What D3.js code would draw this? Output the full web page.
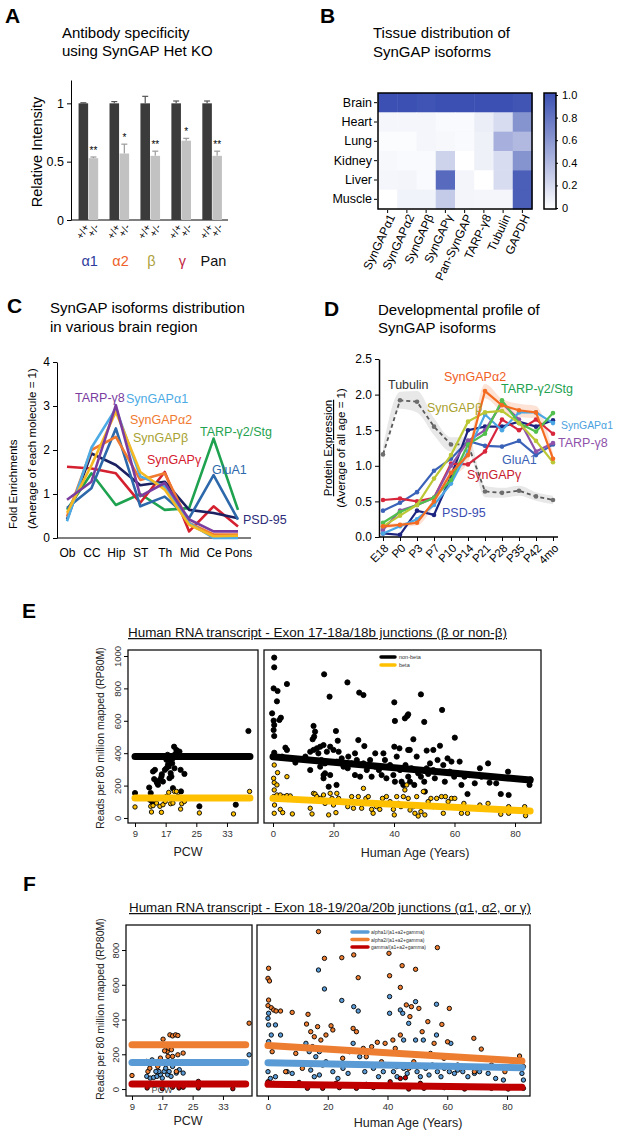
<!DOCTYPE html>
<html>
<head>
<meta charset="utf-8">
<script src="https://cdn.jsdelivr.net/npm/d3@7"></script>
<style>
body{margin:0;background:#fff}
svg{display:block}
</style>
</head>
<body>
<svg id="fig" width="617" height="1131"></svg>
<script>
// ---------- data: panel A ----------
var groupsA = ["α1","α2","β","γ","Pan"]
var genotypesA = ["+/+","+/-"]
var wtA = [1,1,1,1,1]
var wtErrA = [0.005,0.015,0.06,0.02,0.02]
var hetA = [0.53,0.57,0.55,0.68,0.55]
var hetErrA = [0.01,0.08,0.04,0.02,0.04]
var starsA = ["**","*","**","*","**"]

// ---------- data: panel B ----------
var tissuesB = ["Brain","Heart","Lung","Kidney","Liver","Muscle"]
var proteinsB = ["SynGAPα1","SynGAPα2","SynGAPβ","SynGAPγ","Pan-SynGAP","TARP-γ8","Tubulin","GAPDH"]
var heatB = [
  [1.0,1.0,0.98,1.0,1.0,1.0,1.0,0.97],
  [0.05,0.05,0.05,0.03,0.03,0.1,0.2,0.62],
  [0.02,0.02,0.05,0.04,0.03,0.08,0.45,0.4],
  [0.04,0.03,0.03,0.25,0.0,0.08,0.2,0.62],
  [0.05,0.06,0.03,0.85,0.06,0.0,0.2,0.92],
  [0.0,0.07,0.07,0.3,0.06,0.05,0.05,0.92]
]
var cbTicksB = [0,0.2,0.4,0.6,0.8,1.0]

// ---------- data: panel C ----------
var regionsC = ["Ob","CC","Hip","ST","Th","Mid","Ce","Pons"]
var namesC = ["TARP-γ2/Stg","SynGAPγ","PSD-95","GluA1","SynGAPα2","SynGAPα1","SynGAPβ","TARP-γ8"]
var valuesC = [
  [0.64,1.47,0.75,1.0,0.64,0.68,2.26,0.64],
  [1.62,1.58,1.47,0.8,1.5,0.15,0.72,0.26],
  [0.42,1.92,1.66,1.2,1.28,0.64,0.57,0.45],
  [0.68,1.13,2.49,0.72,0.94,0.45,1.43,0.42],
  [0.49,2.0,2.3,1.32,1.47,0.34,0.08,0.08],
  [0.38,2.05,2.94,1.4,1.17,0.34,0.0,0.0],
  [0.57,1.65,2.87,1.5,1.1,0.3,0.04,0.05],
  [0.87,1.28,3.02,0.95,1.25,0.42,0.15,0.15]
]

// ---------- data: panel D ----------
var agesD = ["E18","P0","P3","P7","P10","P14","P21","P28","P35","P42","4mo"]
var namesD = ["Tubulin","GluA1","PSD-95","SynGAPγ","TARP-γ8","SynGAPα1","TARP-γ2/Stg","SynGAPβ","SynGAPα2"]
var valuesD = [
  [1.16,1.92,1.9,1.55,1.3,1.3,0.64,0.62,0.65,0.57,0.52],
  [0.37,0.48,0.63,0.93,1.1,1.35,1.28,1.27,1.35,1.15,1.3],
  [0.05,0.03,0.37,0.31,0.85,1.5,1.55,1.55,1.62,1.55,1.64],
  [0.52,0.54,0.5,0.55,1.03,1.02,1.2,1.65,1.5,1.65,1.45],
  [0.1,0.37,0.45,0.55,1.0,1.35,1.5,1.88,1.65,1.2,1.32],
  [0.05,0.15,0.25,0.45,0.75,1.2,1.72,1.5,1.75,1.75,1.6],
  [0.2,0.35,0.45,0.55,0.8,1.3,1.45,1.92,1.6,1.48,1.74],
  [0.15,0.3,0.45,0.82,1.15,1.62,1.75,1.77,1.6,1.35,1.05],
  [0.15,0.17,0.2,0.5,0.9,1.15,2.05,1.85,1.78,1.75,1.1]
]
var semTubulinD = [0.1,0.12,0.15,0.12,0.1,0.1,0.08,0.07,0.07,0.06,0.06]
var semAlpha2D = [0.03,0.03,0.04,0.06,0.08,0.1,0.1,0.09,0.09,0.09,0.08]

// ---------- data: panel E (PCW / age, RP80M) ----------
var eLeftNonBeta = [[9,154],[38.6,537],[12.7,188],[13.1,154],[13.7,287],[14.2,297],[14,240],[15,205],[15.5,236],[15.9,256],[16.3,225],[16.8,297],[17.2,307],[17.6,328],[18,246],[18.3,277],[18.7,338],[18.9,369],[19.2,440],[19.3,307],[19.8,420],[20.2,400],[20.6,410],[20.9,297],[21,164],[21.9,272],[18.9,184],[25.8,72],[35.3,82],[18,359],[17.2,359],[17.8,318],[18.5,256],[14.6,225],[12.9,113],[17.5,390],[19.5,395],[16,270],[14.8,215],[13.5,100]]
var eLeftBeta = [[9,68],[38.9,164],[13.1,72],[13.3,37],[13.7,76],[14.6,92],[15.5,72],[15.9,35],[16.3,82],[16.9,102],[17.8,158],[18.3,88],[18.9,92],[19.3,164],[19.8,164],[20.2,133],[20.9,55],[21.2,88],[21.9,102],[25.8,31],[34.7,25],[17.2,133],[14.2,113]]
var eRightNonBeta = [[0.4,990],[0.4,930],[0.2,800],[1.5,784],[1.3,720],[4.6,827],[-0.3,646],[0.2,601],[0.4,574],[0.2,543],[0.4,506],[2.1,605],[2.6,619],[16.9,887],[18.7,749],[24.6,837],[28.5,774],[29.9,759],[40.1,714],[40.3,599],[48.9,763],[50,593],[55.9,667],[43.6,615],[44.4,630],[44.7,640],[60.1,496],[13.4,568],[13.1,486],[13.9,533],[13.6,502],[20.8,537],[21.4,477],[28.2,481],[30.2,444],[40.1,440],[41.8,430],[46.4,486],[44.7,420],[50.8,416],[53,420],[55.2,446],[4.1,434],[4.6,420],[0.4,403],[0.2,379],[3,379],[7.4,342],[12.3,296],[13.4,420],[14.5,430],[15.6,440],[16.7,450],[15,399],[16,358],[17.2,337],[15.6,317],[17.8,409],[18.9,440],[20,420],[21.7,409],[16.7,265],[17.2,276],[18.9,265],[21,204],[23.3,317],[24.7,307],[26,337],[27.7,358],[27.1,265],[28.8,255],[29.9,337],[31,296],[32.1,358],[32.6,255],[33.8,317],[35,296],[35.9,265],[37,358],[37.5,245],[38.7,327],[39.8,265],[40.9,379],[42,296],[42.5,224],[43.1,204],[43.8,327],[44.7,255],[45.3,224],[45.8,307],[46.7,204],[47.5,379],[48,276],[48.9,255],[50,224],[50.2,163],[50.8,307],[51.3,272],[51.9,337],[53,296],[53.5,245],[54.4,358],[55.2,286],[56.3,327],[56.8,224],[57.7,368],[58.4,286],[59,348],[59.9,255],[60.6,276],[61.7,348],[62.3,204],[63.3,255],[64.3,148],[65,265],[66.7,214],[68.4,307],[68.9,255],[71.1,337],[71.6,218],[73.8,214],[75.3,148],[77.7,286],[77.9,142],[84.8,204],[85.1,239],[21.1,348],[22.7,368],[24.9,379],[10.7,379],[12.3,409],[27.1,399],[33.8,399],[18.4,193],[16.7,245],[40.3,224],[36.5,399],[45.2,420]]
var eRightBeta = [[0.4,327],[0.2,245],[0.4,218],[1.3,204],[1.5,280],[4.6,255],[0.4,173],[0.2,132],[1.3,142],[2.4,142],[3.5,132],[4.6,138],[5.7,136],[0.5,80],[2.4,53],[3.2,33],[6.4,25],[0.4,29],[12.3,60],[12.9,25],[13.4,152],[13.9,148],[14.5,132],[15.6,121],[16.7,142],[17.2,90],[18.4,19],[18.9,152],[19.5,121],[20,80],[20.8,33],[21.1,152],[21.7,121],[23.3,101],[24.7,70],[26,132],[26.6,60],[28.2,132],[29.3,60],[29.9,183],[30.7,121],[31.5,132],[32.6,53],[33.1,29],[34.2,70],[35.3,53],[36.2,121],[37.5,132],[38.7,101],[39.8,53],[40.1,19],[40.9,132],[41.4,90],[42.3,70],[43.1,132],[43.6,173],[44.2,204],[44.7,121],[45.3,49],[46.4,70],[46.9,29],[47.5,132],[48,12],[48.9,39],[49.7,163],[50.2,19],[51.3,101],[52.2,121],[53,70],[54.1,121],[55.7,132],[56.3,29],[57,132],[57.9,101],[59,121],[60.1,121],[61.2,70],[62.3,29],[63.1,90],[64.3,29],[68.4,80],[71.1,90],[75.3,23],[77.9,70],[77.9,29],[83.2,70],[83.5,14]]
// fitted lines [x0, y0, x1, y1]
var eLeftFitNonBeta = [9,379,39,379]
var eLeftFitBeta = [9,123,39,123]
var eRightFitNonBeta = [0,378,85,234]
var eRightFitBeta = [0,121,85,43]
var eTicksPCW = [9,17,25,33]
var eTicksAge = [0,20,40,60,80]
var eTicksY = [0,200,400,600,800,1000]

// ---------- data: panel F ----------
var fLeftAlpha2 = [[9,78],[39.9,379],[17.2,287],[19,312],[19.7,306],[20.5,312],[21.1,308],[18.3,216],[17.6,220],[18.7,235],[19.4,226],[16.5,178],[19.7,188],[21.1,197],[22.5,207],[13.2,101],[13.7,120],[20.7,101],[18.5,188],[15.8,130]]
var fLeftAlpha1 = [[39.9,197],[12.9,159],[14.3,168],[12.9,73],[13.8,63],[14.7,67],[15.6,73],[16.5,82],[17,63],[17.5,101],[17.9,120],[18.4,82],[18.8,101],[19.3,73],[19.7,130],[20.7,92],[21.5,111],[22.5,92],[16.1,101],[15.3,101]]
var fLeftGamma = [[9,29],[13,6],[17,2],[21.4,6],[26.5,44],[26.5,6],[35.6,2],[13.8,25],[19.7,10],[22.5,10]]
var fRightAlpha2 = [[16.9,906],[18.9,752],[24.7,756],[28.7,772],[40.5,781],[44.9,710],[49.4,689],[40.7,652],[30.2,641],[44.3,585],[56.7,814],[0.2,695],[0,637],[0.5,622],[0.2,512],[0,480],[1.1,468],[1.9,455],[2.7,449],[4.2,449],[8.1,441],[13.4,430],[12.9,374],[14.3,330],[15.5,301],[16.6,359],[17.7,282],[19.4,311],[21.1,364],[21.7,340],[28.5,349],[29.6,330],[31.9,234],[34.7,244],[36.6,269],[39.2,263],[41.8,282],[42.6,234],[44.3,311],[46.3,484],[47.5,417],[48,474],[50.5,464],[51.6,330],[53.5,388],[55.6,263],[58.2,372],[60.7,464],[60.1,272],[68.9,292],[71.4,230],[84.2,190],[85.5,129],[5.9,100],[9.3,205],[11.5,119],[18.3,138],[25,177],[27.3,215],[32.9,186],[35.2,138],[38,157],[43.1,129],[47.1,119],[48.8,157],[54.4,205],[58.9,177],[63.5,138],[69.1,100],[74.8,138],[79.3,100],[1.4,215]]
var fRightAlpha1 = [[16.9,685],[18.9,576],[24.7,510],[28.7,474],[30.2,449],[40.7,532],[40.7,436],[44.3,455],[45.1,436],[47.1,378],[49.4,503],[56.4,488],[49.4,282],[52,282],[56.4,311],[0.2,436],[0,407],[0.2,369],[1.1,311],[2.5,369],[0.2,273],[4.2,311],[0,100],[0.8,61],[2.5,71],[6.4,100],[8.1,90],[12.7,263],[13.8,215],[14.9,244],[16,186],[17.2,215],[14.3,109],[15.5,71],[17.2,81],[19.4,157],[21.7,100],[23.4,61],[25.1,119],[26.8,90],[28.5,263],[30.7,186],[32.4,100],[35.3,119],[37,71],[38.6,100],[40.3,138],[42,100],[43.2,71],[45.4,119],[46.6,90],[48.2,129],[49.9,100],[51,71],[52.8,119],[53.9,81],[55,138],[56.7,100],[57.9,71],[59,119],[60.7,100],[62.4,90],[63.5,109],[65.2,100],[66.9,71],[69.1,90],[70.8,100],[73.7,90],[76.2,61],[78.8,52],[85,90],[85.5,52],[61.2,263],[45.4,282]]
var fRightGamma = [[0,42],[1.9,33],[4.7,27],[10.4,38],[13.2,4],[18.3,4],[23.9,8],[29.6,4],[35.3,8],[40.9,42],[44.3,61],[46,65],[47.1,0],[52.2,4],[59,8],[65.8,0],[74.8,4],[80.4,0],[85.5,4],[22.8,33],[32.9,27],[51,33]]
var fLeftFitAlpha2 = [9,255,39,255]
var fLeftFitAlpha1 = [9,153,39,153]
var fLeftFitGamma = [9,29,39,29]
var fRightFitAlpha2 = [0,250,85,161]
var fRightFitAlpha1 = [0,152,85,123]
var fRightFitGamma = [0,27,85,10]
var fTicksY = [0,200,400,600,800]

// ---------- drawing ----------
var FONT = '"Liberation Sans", Arial, Helvetica, sans-serif';
const svg = d3.select("#fig").style("font-family", FONT);
svg.append("rect").attr("width",617).attr("height",1131).attr("fill","#fff");

function addText(t, x, y, size, opts){
	opts = opts || {};
	var el = svg.append("text")
		.attr("x", x).attr("y", y)
		.attr("font-size", size)
		.attr("fill", opts.fill || "#000")
		.attr("text-anchor", opts.anchor || "start")
		.text(t);
	if(opts.weight) el.attr("font-weight", opts.weight);
	if(opts.rotate) el.attr("transform", "rotate(" + opts.rotate + "," + x + "," + y + ")");
	if(opts.underline) el.attr("text-decoration", "underline");
	if(opts.len) el.attr("textLength", opts.len).attr("lengthAdjust", "spacingAndGlyphs");
	return el;
}
function styleAxis(g, size){
	g.attr("font-family", FONT).attr("font-size", size);
	g.selectAll("text").attr("fill","#000");
	g.selectAll("line,path").attr("stroke","#000");
}

// panel letters
addText("A", 5, 23, 21, {weight:"bold"});
addText("B", 320, 23, 21, {weight:"bold"});
addText("C", 7, 313, 21, {weight:"bold"});
addText("D", 324, 316, 21, {weight:"bold"});
addText("E", 22, 618, 21, {weight:"bold"});
addText("F", 23, 891, 21, {weight:"bold"});

// ===== Panel A =====
addText("Antibody specificity", 62, 38, 15);
addText("using SynGAP Het KO", 62, 56, 15);
var yA = d3.scaleLinear().domain([0,1.2]).range([220,80]);
var x0A = d3.scaleBand().domain(groupsA).range([73,228]).paddingInner(0.35).paddingOuter(0.18);
var x1A = d3.scaleBand().domain(genotypesA).range([0, x0A.bandwidth()]);
var gA = svg.append("g").attr("transform","translate(71,0)")
	.call(d3.axisLeft(yA).tickValues([0,0.5,1]).tickFormat(d => d===0 ? "0" : (d===1 ? "1" : "0.5")).tickSize(4).tickSizeOuter(0));
styleAxis(gA, 12.5);
svg.append("line").attr("x1",71).attr("x2",228).attr("y1",yA(0)).attr("y2",yA(0)).attr("stroke","#000");
addText("Relative Intensity", 42, 152, 14.5, {anchor:"middle", rotate:-90});

var barsA = groupsA.map((g,i) => ({g:g, i:i, wt:wtA[i], wtErr:wtErrA[i], het:hetA[i], hetErr:hetErrA[i], star:starsA[i]}));
barsA.forEach(function(d){
	var xw = x0A(d.g) + x1A("+/+");
	var xh = x0A(d.g) + x1A("+/-");
	var bw = x1A.bandwidth() - 0.5;
	var errs = [[xw, d.wt, d.wtErr, "#555"], [xh, d.het, d.hetErr, "#9a9a9a"]];
	errs.forEach(function(e){
		var cx = e[0] + bw/2;
		svg.append("line").attr("x1",cx).attr("x2",cx).attr("y1",yA(e[1])).attr("y2",yA(e[1]+e[2])).attr("stroke",e[3]).attr("stroke-width",1.2);
		svg.append("line").attr("x1",cx-3).attr("x2",cx+3).attr("y1",yA(e[1]+e[2])).attr("y2",yA(e[1]+e[2])).attr("stroke",e[3]).attr("stroke-width",1.2);
	});
	svg.append("rect").attr("x",xw).attr("width",bw).attr("y",yA(d.wt)).attr("height",yA(0)-yA(d.wt)).attr("fill","#3b3b3b");
	svg.append("rect").attr("x",xh).attr("width",bw).attr("y",yA(d.het)).attr("height",yA(0)-yA(d.het)).attr("fill","#c2c2c2");
	addText(d.star, xh + bw/2, yA(d.het + d.hetErr) - 3, 10, {anchor:"middle"});
	genotypesA.forEach(function(gt){
		var cx = x0A(d.g) + x1A(gt) + bw/2 + 3;
		svg.append("text").attr("font-size",10.5).attr("text-anchor","end")
			.attr("transform","translate(" + cx + ",225) rotate(-60)").attr("dy","0.35em").text(gt);
	});
});
var groupColorsA = ["#2d3b9c","#ee5f2a","#ad9f3c","#c21f3f","#111"];
groupsA.forEach(function(g,i){
	addText(g, x0A(g) + x0A.bandwidth()/2 + 1, 266, 14.5, {anchor:"middle", fill:groupColorsA[i]});
});

// ===== Panel B =====
addText("Tissue distribution of", 373, 38, 15);
addText("SynGAP isoforms", 373, 57, 15);
var xB = d3.scaleBand().domain(proteinsB).range([378,532]);
var yB = d3.scaleBand().domain(tissuesB).range([93,209]);
var colB = d3.scaleLinear().domain([0,1]).range(["#ffffff","#3b50b2"]);
var cellsB = [];
tissuesB.forEach((t,r) => proteinsB.forEach((p,c) => cellsB.push({t:t, p:p, v:heatB[r][c]})));
svg.append("g").selectAll("rect").data(cellsB).join("rect")
	.attr("x", d => xB(d.p)).attr("y", d => yB(d.t))
	.attr("width", xB.bandwidth()+0.5).attr("height", yB.bandwidth()+0.5)
	.attr("fill", d => colB(d.v));
svg.append("rect").attr("x",378).attr("y",93).attr("width",154).attr("height",116).attr("fill","none").attr("stroke","#000").attr("stroke-width",1.5);
var gBy = svg.append("g").attr("transform","translate(377,0)").call(d3.axisLeft(yB).tickSize(3).tickPadding(2));
styleAxis(gBy, 12.5);
gBy.select(".domain").remove();
var gBx = svg.append("g").attr("transform","translate(0,210)").call(d3.axisBottom(xB).tickSize(3));
styleAxis(gBx, 12);
gBx.select(".domain").remove();
gBx.selectAll("text").attr("text-anchor","end").attr("x",0).attr("y",0).attr("dy","0.35em")
	.attr("transform","translate(4,5) rotate(-65)");
// colour bar
var defs = svg.append("defs");
var grad = defs.append("linearGradient").attr("id","cbgrad").attr("x1",0).attr("y1",1).attr("x2",0).attr("y2",0);
grad.append("stop").attr("offset","0%").attr("stop-color",colB(0));
grad.append("stop").attr("offset","100%").attr("stop-color",colB(1));
svg.append("rect").attr("x",544).attr("y",93).attr("width",12).attr("height",116).attr("fill","url(#cbgrad)").attr("stroke","#000").attr("stroke-width",1.5);
var yCb = d3.scaleLinear().domain([0,1]).range([208,95]);
var gCb = svg.append("g").attr("transform","translate(556,0)")
	.call(d3.axisRight(yCb).tickValues(cbTicksB).tickFormat(d => d===0 ? "0" : d3.format(".1f")(d)).tickSize(2).tickPadding(4));
styleAxis(gCb, 11);
gCb.select(".domain").remove();

// ===== Panel C =====
addText("SynGAP isoforms distribution", 50, 313, 15);
addText("in various brain region", 50, 332, 15);
var xC = d3.scalePoint().domain(regionsC).range([67,238]);
var yC = d3.scaleLinear().domain([0,4]).range([538,362]);
var gCy = svg.append("g").attr("transform","translate(57,0)")
	.call(d3.axisLeft(yC).ticks(4).tickSize(4).tickSizeOuter(0).tickFormat(d3.format("d")));
styleAxis(gCy, 12);
svg.append("line").attr("x1",57).attr("x2",251).attr("y1",538).attr("y2",538).attr("stroke","#000");
var gCx = svg.append("g").attr("transform","translate(0,538)").call(d3.axisBottom(xC).tickSize(0).tickPadding(10));
styleAxis(gCx, 12);
gCx.select(".domain").remove();
addText("Fold Enrichments", 17, 529, 11.5, {rotate:-90});
addText("(Anerage of each molecule = 1)", 36, 529, 11.5, {rotate:-90});
var colorsC = {"TARP-γ2/Stg":"#1fa24f","SynGAPγ":"#d4202f","PSD-95":"#1c2162","GluA1":"#2d69aa","SynGAPα2":"#f07a30","SynGAPα1":"#4cabe4","SynGAPβ":"#f4b823","TARP-γ8":"#7a3d9f"};
var lineC = d3.line().x((d,i) => xC(regionsC[i])).y(d => yC(d));
svg.append("g").selectAll("path").data(namesC.map((n,i) => ({n:n, v:valuesC[i]}))).join("path")
	.attr("d", d => lineC(d.v)).attr("fill","none").attr("stroke", d => colorsC[d.n])
	.attr("stroke-width",2.6).attr("stroke-linejoin","round");
var labelsC = [["TARP-γ8",75,402,"#7a3d9f"],["SynGAPα1",126,403,"#4cabe4"],["SynGAPα2",130,424,"#f07a30"],["SynGAPβ",133,442,"#a8a233"],
	["SynGAPγ",147,464,"#d4202f"],["TARP-γ2/Stg",200,436,"#1fa24f"],["GluA1",212,474,"#2d69aa"],["PSD-95",243,524,"#2d2c7a"]];
labelsC.forEach(l => addText(l[0], l[1], l[2], 12.5, {fill:l[3]}));

// ===== Panel D =====
addText("Developmental profile of", 378, 315, 15);
addText("SynGAP isoforms", 378, 333, 15);
var xD = d3.scalePoint().domain(agesD).range([383,553]);
var yD = d3.scaleLinear().domain([0,2.5]).range([537,359]);
var gDy = svg.append("g").attr("transform","translate(379,0)")
	.call(d3.axisLeft(yD).tickValues([0,0.5,1,1.5,2,2.5]).tickFormat(d3.format(".1f")).tickSize(4).tickSizeOuter(0));
styleAxis(gDy, 12);
gDy.select(".domain").attr("stroke-width",1.5);
var gDx = svg.append("g").attr("transform","translate(0,537)").call(d3.axisBottom(xD).tickSize(4));
styleAxis(gDx, 11.5);
gDx.select(".domain").remove();
svg.append("line").attr("x1",379).attr("x2",558).attr("y1",537).attr("y2",537).attr("stroke","#000").attr("stroke-width",1.5);
gDx.selectAll("text").attr("text-anchor","end").attr("x",0).attr("y",0).attr("dy","0.35em")
	.attr("transform","translate(3,9) rotate(-45)");
addText("Protein Expression", 332, 448, 11.5, {anchor:"middle", rotate:-90, underline:true});
addText("(Average of all age = 1)", 345, 448, 11.5, {anchor:"middle", rotate:-90});
var colorsD = {"Tubulin":"#5a5a5a","GluA1":"#3a62b8","PSD-95":"#1e2580","SynGAPγ":"#d8263c","TARP-γ8":"#8f52aa","SynGAPα1":"#4aa6e4","TARP-γ2/Stg":"#52c04e","SynGAPβ":"#bcc735","SynGAPα2":"#f36b21"};
var bandD = d3.area().x((d,i) => xD(agesD[i])).y0(d => yD(d[0]-d[1])).y1(d => yD(d[0]+d[1])).curve(d3.curveMonotoneX);
svg.append("path").datum(valuesD[0].map((v,i) => [v, semTubulinD[i]])).attr("d", bandD).attr("fill","#d9d9d9").attr("opacity",0.6);
svg.append("path").datum(valuesD[8].map((v,i) => [v, semAlpha2D[i]])).attr("d", bandD).attr("fill","#f7a078").attr("opacity",0.3);
var lineD = d3.line().x((d,i) => xD(agesD[i])).y(d => yD(d));
namesD.forEach(function(n,k){
	var g = svg.append("g");
	g.append("path").attr("d", lineD(valuesD[k])).attr("fill","none").attr("stroke", colorsD[n])
		.attr("stroke-width", n==="Tubulin" ? 1.8 : 2.2).attr("stroke-dasharray", n==="Tubulin" ? "4,3" : null);
	g.selectAll("circle").data(valuesD[k]).join("circle")
		.attr("cx", (d,i) => xD(agesD[i])).attr("cy", d => yD(d)).attr("r", 2.3)
		.attr("fill", n==="Tubulin" ? "#6e6e6e" : colorsD[n]);
});
var labelsD = [["Tubulin",388,389,"#333"],["SynGAPα2",444,381,"#f0601e"],["TARP-γ2/Stg",501,393,"#22a14f"],["SynGAPβ",427,412,"#a9a12f"],
	["SynGAPα1",561,429,"#4aa2e0"],["TARP-γ8",558,447,"#8f52aa"],["GluA1",502,464,"#3a5fb5"],["SynGAPγ",467,479,"#c8202f"],["PSD-95",442,517,"#3c4db2"]];
labelsD.forEach(function(l){
	var t = addText(l[0], l[1], l[2], 12.5, {fill:l[3]});
	var w = t.node().getComputedTextLength();
	if(l[1] + w > 613) t.attr("font-size", 12.5 * (613 - l[1]) / w);
});

// ===== Panels E and F (scatter with fits) =====
function scatterPanel(cfg){
	var x = d3.scaleLinear().domain(cfg.xDomain).range([cfg.box[0], cfg.box[1]]);
	var y = cfg.y;
	var g = svg.append("g");
	cfg.series.forEach(function(s){
		g.append("g").selectAll("circle").data(s.pts).join("circle")
			.attr("cx", d => x(d[0])).attr("cy", d => y(d[1])).attr("r", s.r)
			.attr("fill", s.fill).attr("stroke","#000").attr("stroke-width",0.9);
	});
	cfg.fits.forEach(function(f){
		g.append("line").attr("x1",x(f.v[0])).attr("y1",y(f.v[1])).attr("x2",x(f.v[2])).attr("y2",y(f.v[3]))
			.attr("stroke",f.color).attr("stroke-width",7).attr("stroke-linecap","round");
	});
	svg.append("rect").attr("x",cfg.box[0]).attr("y",cfg.box[2]).attr("width",cfg.box[1]-cfg.box[0]).attr("height",cfg.box[3]-cfg.box[2])
		.attr("fill","none").attr("stroke","#111").attr("stroke-width",1.3);
	var gx = svg.append("g").attr("transform","translate(0," + cfg.box[3] + ")")
		.call(d3.axisBottom(x).tickValues(cfg.xTicks).tickSize(4).tickPadding(3));
	styleAxis(gx, 9.5);
	gx.select(".domain").remove();
	gx.selectAll("text").attr("fill","#333");
	if(cfg.yTicks){
		var gy = svg.append("g").attr("transform","translate(" + cfg.box[0] + ",0)")
			.call(d3.axisLeft(y).tickValues(cfg.yTicks).tickSize(4).tickFormat(d3.format("d")));
		styleAxis(gy, 9.5);
		gy.select(".domain").remove();
		gy.selectAll("text").attr("text-anchor","middle").attr("x",0).attr("y",-7).attr("dy",null)
			.attr("transform","rotate(-90)").attr("fill","#333");
	}
	addText(cfg.xLabel[0], cfg.xLabel[1], cfg.xLabel[2], 12.5, {anchor:"middle", fill:"#222"});
	return x;
}

// Panel E
addText("Human RNA transcript - Exon 17-18a/18b junctions (β or non-β)", 128, 637, 12.5, {underline:true, len:379, fill:"#111"});
var yE = d3.scaleLinear().domain([-31,1037]).range([823,650]);
scatterPanel({box:[128,258,650,823], xDomain:[7.17,41.1], y:yE, xTicks:eTicksPCW, yTicks:eTicksY,
	series:[{pts:eLeftNonBeta, fill:"#000", r:2.6},{pts:eLeftBeta, fill:"#ffc000", r:2.2}],
	fits:[{v:eLeftFitNonBeta, color:"#000"},{v:eLeftFitBeta, color:"#ffc000"}], xLabel:["PCW",188,856]});
scatterPanel({box:[264,541,650,823], xDomain:[-2.98,88.6], y:yE, xTicks:eTicksAge, yTicks:null,
	series:[{pts:eRightNonBeta, fill:"#000", r:2.6},{pts:eRightBeta, fill:"#ffc000", r:2.2}],
	fits:[{v:eRightFitNonBeta, color:"#000"},{v:eRightFitBeta, color:"#ffc000"}], xLabel:["Human Age (Years)",415,857]});
addText("Reads per 80 million mapped (RP80M)", 104, 738, 10.5, {anchor:"middle", rotate:-90, fill:"#222"});
var legE = [["non-beta","#000"],["beta","#ffc000"]];
legE.forEach(function(l,i){
	svg.append("line").attr("x1",381).attr("x2",395).attr("y1",657+i*8).attr("y2",657+i*8).attr("stroke",l[1]).attr("stroke-width",3.5).attr("stroke-linecap","round");
	addText(l[0], 399, 659+i*8, 5.5, {fill:"#333"});
});

// Panel F
addText("Human RNA transcript - Exon 18-19/20a/20b junctions (α1, α2, or γ)", 129, 912, 12.5, {underline:true, len:402, fill:"#111"});
var yF = d3.scaleLinear().domain([-40,944]).range([1096,925]);
scatterPanel({box:[126,252,925,1096], xDomain:[7.42,40.66], y:yF, xTicks:eTicksPCW, yTicks:fTicksY,
	series:[{pts:fLeftAlpha1, fill:"#5b9bd5", r:2.2},{pts:fLeftAlpha2, fill:"#ed7d31", r:2.2},{pts:fLeftGamma, fill:"#c00000", r:2.2}],
	fits:[{v:fLeftFitAlpha2, color:"#ed7d31"},{v:fLeftFitAlpha1, color:"#5b9bd5"},{v:fLeftFitGamma, color:"#c00000"}], xLabel:["PCW",188,1125]});
addText("PCW", 162, 1093, 9, {anchor:"middle", fill:"#444"});
scatterPanel({box:[257,530,925,1096], xDomain:[-3.68,87.7], y:yF, xTicks:eTicksAge, yTicks:null,
	series:[{pts:fRightAlpha1, fill:"#5b9bd5", r:2.2},{pts:fRightAlpha2, fill:"#ed7d31", r:2.2},{pts:fRightGamma, fill:"#c00000", r:2.2}],
	fits:[{v:fRightFitAlpha2, color:"#ed7d31"},{v:fRightFitAlpha1, color:"#5b9bd5"},{v:fRightFitGamma, color:"#c00000"}], xLabel:["Human Age (Years)",408,1127]});
addText("Reads per 80 million mapped (RP80M)", 104, 1009, 10.5, {anchor:"middle", rotate:-90, fill:"#222"});
var legF = [["alpha1/(a1+a2+gamma)","#5b9bd5"],["alpha2/(a1+a2+gamma)","#ed7d31"],["gamma/(a1+a2+gamma)","#c00000"]];
legF.forEach(function(l,i){
	svg.append("line").attr("x1",352).attr("x2",368).attr("y1",932+i*7.5).attr("y2",932+i*7.5).attr("stroke",l[1]).attr("stroke-width",3.5).attr("stroke-linecap","round");
	addText(l[0], 371, 934+i*7.5, 5, {fill:"#333"});
});
</script>
</body>
</html>
